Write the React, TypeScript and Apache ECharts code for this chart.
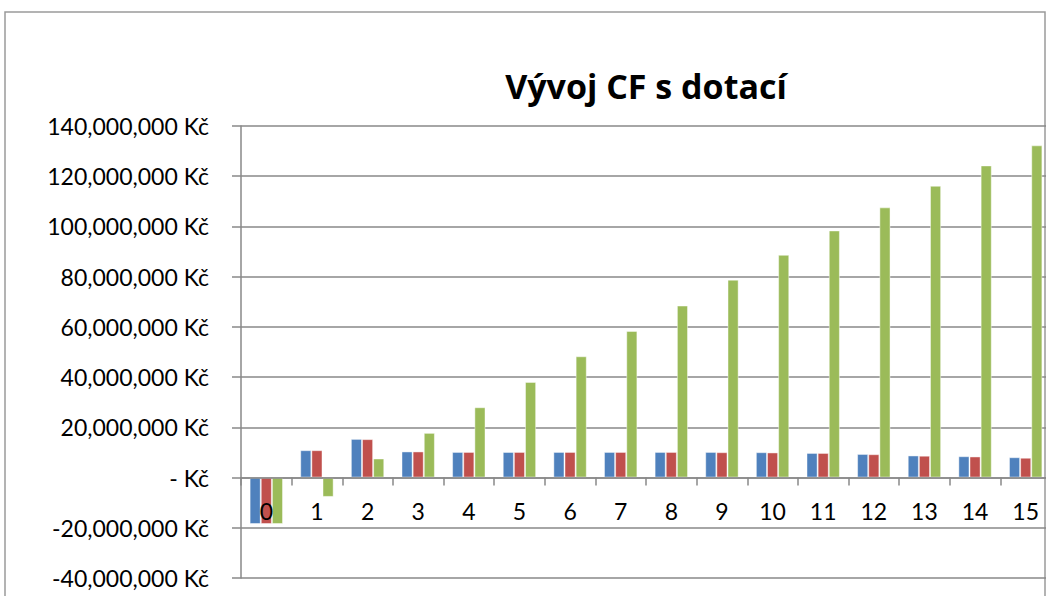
import React, { useEffect, useRef } from "react";
import * as echarts from "echarts";

const categories = ["0", "1", "2", "3", "4", "5", "6", "7", "8", "9", "10", "11", "12", "13", "14", "15"];
const cfBlue = [-18.5, 10.9, 15.4, 10.4, 10.2, 10.2, 10.2, 10.2, 10.2, 10.2, 10.1, 9.8, 9.4, 8.8, 8.5, 8.1].map((v) => v * 1e6);
const cfRed = [-18.5, 10.9, 15.3, 10.4, 10.2, 10.2, 10.2, 10.2, 10.2, 10.1, 10.0, 9.8, 9.3, 8.7, 8.4, 7.9].map((v) => v * 1e6);
const cfCumulative = [-18.5, -7.7, 7.6, 17.8, 28.0, 38.1, 48.3, 58.4, 68.5, 78.8, 88.7, 98.4, 107.6, 116.2, 124.3, 132.3].map((v) => v * 1e6);
const yMin = -40000000;
const yMax = 140000000;
const yStep = 20000000;

const FONT = "Lato, 'Open Sans', sans-serif";

function fmt(v: number): string {
  if (v === 0) return "- Kč";
  const s = Math.abs(v).toString().replace(/\B(?=(\d{3})+(?!\d))/g, ",");
  return (v < 0 ? "-" : "") + s + " Kč";
}

export default function App() {
  const ref = useRef<HTMLDivElement>(null);
  useEffect(() => {
    if (!ref.current) return;
    const chart = echarts.init(ref.current, undefined, { renderer: "svg" });
    const barStyle = (color: string) => ({
      color,
      borderColor: "rgba(255,255,255,0.45)",
      borderWidth: 1,
    });
    const gridTop = 126;
    const gridBottom = 18;
    const plotH = 596 - gridTop - gridBottom;
    const zeroOffset = -(plotH * (0 - yMin)) / (yMax - yMin);
    chart.setOption({
      animation: false,
      backgroundColor: "#ffffff",
      title: {
        text: "Vývoj CF s dotací",
        left: 641,
        textAlign: "center",
        top: 64,
        textStyle: { fontFamily: "'Open Sans', sans-serif", fontSize: 34, fontWeight: "bold", color: "#000" },
      },
      graphic: [
        {
          type: "rect",
          shape: { x: 5, y: 12, width: 1040, height: 700 },
          style: { fill: "none", stroke: "#9a9a9a", lineWidth: 1.5 },
          silent: true,
        },
      ],
      grid: { left: 241, top: gridTop, right: -5, bottom: gridBottom, containLabel: false, outerBoundsMode: "none" },
      xAxis: {
        type: "category",
        data: categories,
        position: "bottom",
        offset: zeroOffset,
        z: 5,
        axisLine: { onZero: false, lineStyle: { color: "#888", width: 1.5 } },
        axisTick: { show: true, length: 8, lineStyle: { color: "#888", width: 1.5 } },
        axisLabel: { fontFamily: FONT, fontSize: 23, color: "#000", margin: 22 },
        splitLine: { show: false },
      },
      yAxis: {
        type: "value",
        min: yMin,
        max: yMax,
        interval: yStep,
        axisLine: { show: true, lineStyle: { color: "#888", width: 1.5 } },
        axisTick: { show: true, length: 9, lineStyle: { color: "#888", width: 1.5 } },
        axisLabel: { fontFamily: FONT, fontSize: 23, color: "#000", margin: 32, formatter: (v: number) => fmt(v) },
        splitLine: { show: true, lineStyle: { color: "#888", width: 1.5 } },
      },
      series: [
        { name: "CF", type: "bar", data: cfBlue, barGap: "0%", barCategoryGap: "34%", itemStyle: barStyle("#4F81BD") },
        { name: "CF s dotací", type: "bar", data: cfRed, barGap: "0%", barCategoryGap: "34%", itemStyle: barStyle("#C0504D") },
        { name: "Kumulované CF", type: "bar", data: cfCumulative, barGap: "0%", barCategoryGap: "34%", itemStyle: barStyle("#9BBB59") },
      ],
    });
    return () => chart.dispose();
  }, []);
  return <div ref={ref} style={{ position: "fixed", left: 0, top: 0, width: 1046, height: 596 }} />;
}
